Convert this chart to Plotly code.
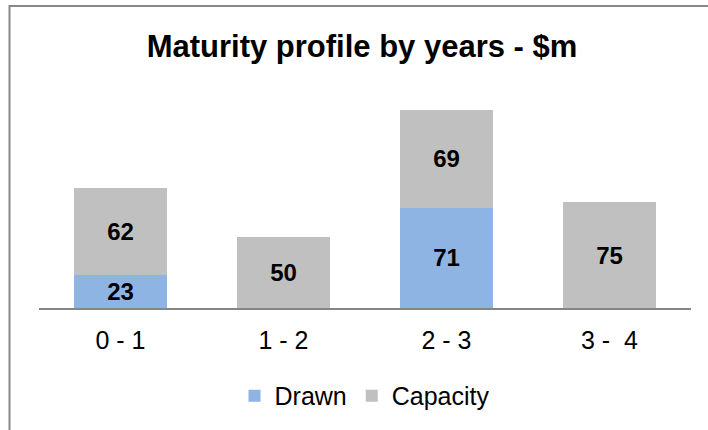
import plotly.graph_objects as go

categories = ["0 - 1", "1 - 2", "2 - 3", "3 -\u00a0 4"]
drawn = [23, 0, 71, 0]
capacity = [62, 50, 69, 75]

FONT = "Arial, Liberation Sans, sans-serif"
DRAWN_C = "#8EB4E3"
CAP_C = "#C0C0C0"

def labels(vals):
    return [str(v) if v else "" for v in vals]

fig = go.Figure()
for name, vals, col in [("Drawn", drawn, DRAWN_C), ("Capacity", capacity, CAP_C)]:
    fig.add_trace(go.Bar(
        name=name, x=categories, y=vals, marker_color=col,
        marker_line_width=0,
        text=labels(vals), textposition="inside", insidetextanchor="middle",
        textangle=0, constraintext="none",
        textfont=dict(family=FONT, size=24, color="black", weight="bold"),
    ))

fig.update_layout(
    barmode="stack",
    bargap=0.43,
    width=708, height=430,
    margin=dict(l=39, r=17, t=96, b=122, autoexpand=False),
    paper_bgcolor="white", plot_bgcolor="white",
    font=dict(family=FONT, size=25, color="black"),
    title=dict(text="<b>Maturity profile by years - $m</b>",
               font=dict(family=FONT, size=31, color="black"),
               xref="container", x=362/708, xanchor="center",
               yref="container", y=1 - 46/430, yanchor="middle"),
    showlegend=True,
    legend=dict(orientation="h", x=0.5, xanchor="center", y=-0.415, yanchor="middle",
                font=dict(family=FONT, size=25, color="black"),
                itemwidth=30, traceorder="normal"),
    xaxis=dict(showline=True, linecolor="#868686", linewidth=2, ticks="",
               showgrid=False, tickfont=dict(family=FONT, size=25, color="black"),
               ticklabelstandoff=9),
    yaxis=dict(range=[0, 150], visible=False, showgrid=False),
    shapes=[
        dict(type="rect", xref="paper", yref="paper",
             x0=(9.5 - 39) / 652, x1=1.2, y0=-0.8, y1=(308 - 6) / 212,
             line=dict(color="#888888", width=2), fillcolor="rgba(0,0,0,0)", layer="below"),
    ],
)

fig.write_html("out.html", config={"displayModeBar": False},
               post_script="document.body.style.margin='0';")
